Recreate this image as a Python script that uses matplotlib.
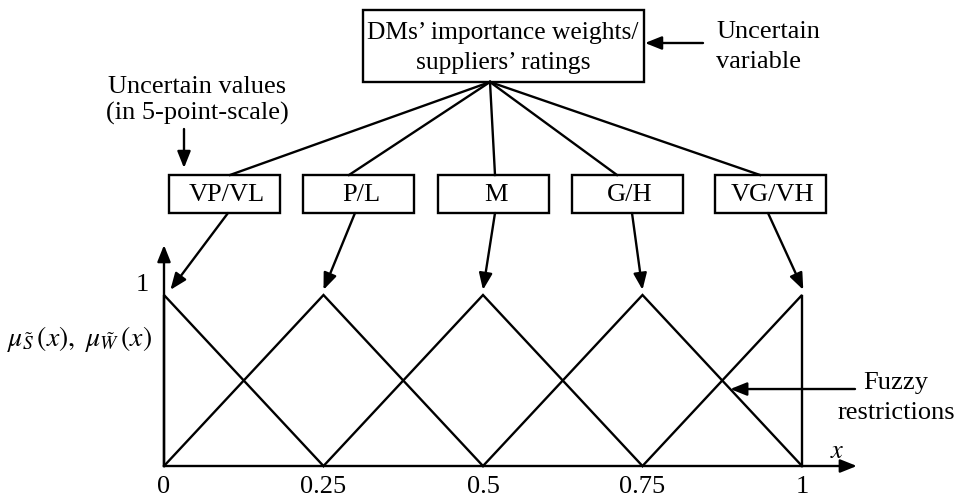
import matplotlib.pyplot as plt
from matplotlib.patches import Rectangle

plt.rcParams['font.family'] = 'Liberation Serif'
plt.rcParams['mathtext.fontset'] = 'stix'

# linguistic terms and their triangular fuzzy numbers (l, m, u)
terms = ['VP/VL', 'P/L', 'M', 'G/H', 'VG/VH']
tfn_l = [0.0, 0.0, 0.25, 0.5, 0.75]
tfn_m = [0.0, 0.25, 0.5, 0.75, 1.0]
tfn_u = [0.25, 0.5, 0.75, 1.0, 1.0]
xticks = [0, 0.25, 0.5, 0.75, 1]
xtick_labels = ['0', '0.25', '0.5', '0.75', '1']

lw = 1.7
fs = 19

fig = plt.figure(figsize=(9.63, 5.01), dpi=100)

# chart axes: data x 0..1 -> px 164..802, y 0..1 -> px 466..295
ax = fig.add_axes([0, 0, 1, 1])
ax.set_xlim(-164 / 638, (963 - 164) / 638)
ax.set_ylim(-(501 - 466) / 171, 466 / 171)
ax.axis('off')

# diagram overlay in pixel coords
dg = fig.add_axes([0, 0, 1, 1])
dg.set_xlim(0, 963)
dg.set_ylim(501, 0)
dg.axis('off')
dg.patch.set_alpha(0)

# membership functions
for l, m, u in zip(tfn_l, tfn_m, tfn_u):
    ax.plot([l, m, u], [0, 1, 0], color='black', lw=lw, solid_joinstyle='miter')

# axes arrows
head = dict(arrowstyle='-|>,head_length=0.5,head_width=0.2', color='black', lw=lw,
            mutation_scale=20, shrinkA=0, shrinkB=0)
ax.annotate('', xy=(1.086, 0), xytext=(0, 0), arrowprops=head)
ax.annotate('', xy=(0, 1.292), xytext=(0, 0), arrowprops=head)

for t, lab in zip(xticks, xtick_labels):
    ax.text(t, -0.125, lab, ha='center', va='center', fontsize=fs)
ax.text(-0.034, 1.06, '1', ha='center', va='center', fontsize=fs)
ax.text(1.055, 0.08, '$x$', ha='center', va='center', fontsize=fs)
ax.text(-0.133, 0.74, r'$\mu_{\tilde{S}}\,(x),\ \mu_{\tilde{W}}\,(x)$', ha='center', va='center',
        fontsize=fs + 1)

# top box
dg.add_patch(Rectangle((363, 10), 281, 72, fill=False, lw=lw, ec='black'))
dg.text(503, 33, 'DMs’ importance weights/', ha='center', va='center', fontsize=fs - 0.6)
dg.text(503, 63, 'suppliers’ ratings', ha='center', va='center', fontsize=fs - 0.6)

dg.annotate('', xy=(645, 43), xytext=(703, 43), arrowprops=head)
dg.text(716, 32, 'Uncertain', ha='left', va='center', fontsize=fs)
dg.text(716, 62, 'variable', ha='left', va='center', fontsize=fs)

dg.text(197, 87, 'Uncertain values', ha='center', va='center', fontsize=fs)
dg.text(197, 113, '(in 5-point-scale)', ha='center', va='center', fontsize=fs)
dg.annotate('', xy=(184, 168), xytext=(184, 129), arrowprops=head)

# term boxes
box_left = [169, 303, 438, 572, 715]
top_join = [230, 349, 495, 617, 760]
bot_join = [228, 355, 495, 632, 768]
tip_dx = [0.01, 0.0, 0.0, 0.0, 0.002]
for lab, bx, tj, bj, m, dx in zip(terms, box_left, top_join, bot_join, tfn_m, tip_dx):
    dg.add_patch(Rectangle((bx, 175), 111, 38, fill=False, lw=lw, ec='black'))
    dg.text(bx + 58, 195, lab, ha='center', va='center', fontsize=fs)
    dg.plot([490, tj], [82, 175], color='black', lw=lw)
    ax.annotate('', xy=(m + dx, 1.03), xycoords='data',
                xytext=(bj, 213), textcoords=dg.transData, arrowprops=head)

# fuzzy restrictions
ax.annotate('', xy=(0.8875, 0.45), xycoords='data',
            xytext=(855, 389), textcoords=dg.transData, arrowprops=head)
dg.text(896, 383, 'Fuzzy', ha='center', va='center', fontsize=fs)
dg.text(896, 413, 'restrictions', ha='center', va='center', fontsize=fs)

fig.savefig('out.png', dpi=100)
